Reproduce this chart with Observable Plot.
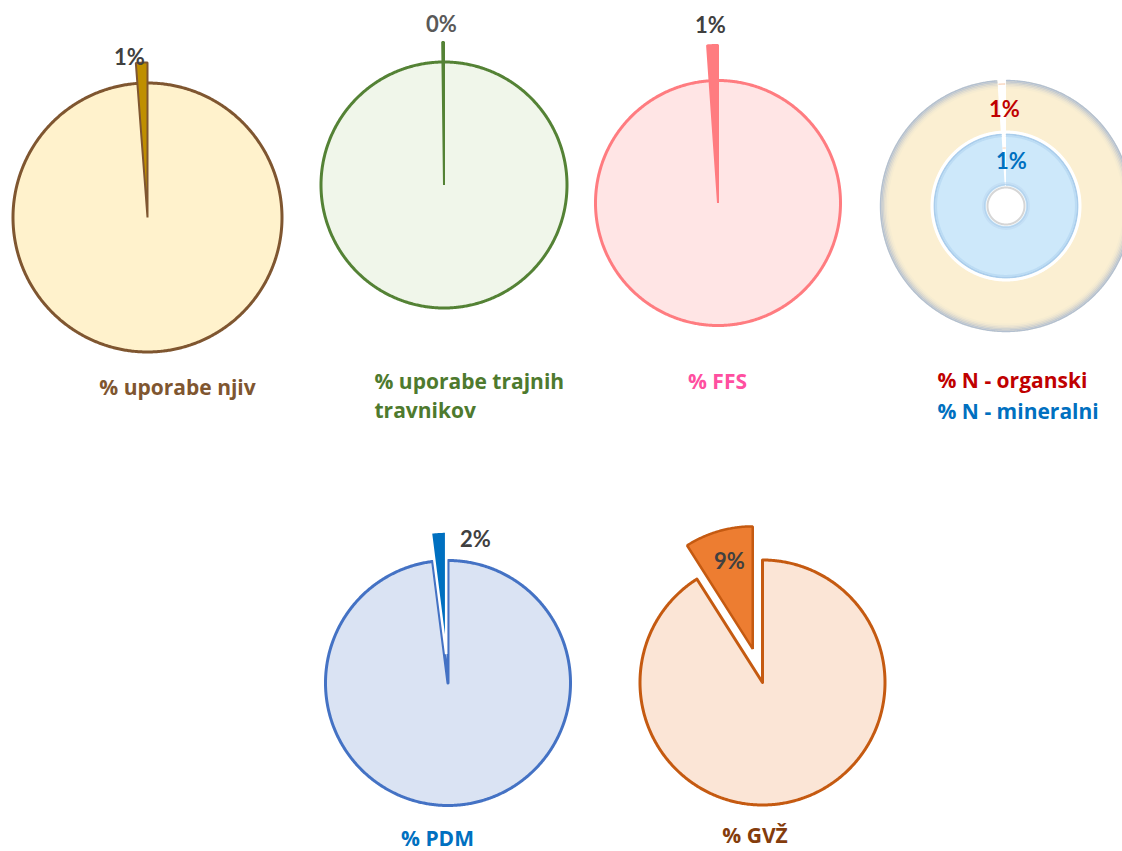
<!DOCTYPE html>
<html><head><meta charset="utf-8">
<script src="https://cdn.jsdelivr.net/npm/d3@7"></script>
<script src="https://cdn.jsdelivr.net/npm/@observablehq/plot@0.6"></script>
<style>body{margin:0;background:#fff} #chart svg{display:block}</style>
</head><body><div id="chart"></div>
<script>
// ---- data ----
const indicators = ["% uporabe njiv", "% uporabe trajnih\ntravnikov", "% FFS", "% N - organski", "% N - mineralni", "% PDM", "% GVŽ"];
const sliceShare = [1.2, 0.2, 1.1, 1.1, 1.0, 2.0, 9.0];   // highlighted slice, %
const restShare  = [98.8, 99.8, 98.9, 98.9, 99.0, 98.0, 91.0]; // remainder, %
const pctLabels = ["1%", "0%", "1%", "1%", "1%", "2%", "9%"];

// ---- layout & styles (not data) ----
const W = 1122, H = 851;
const L = [
  {kind:"pie", cx:147, cy:217, r:134.5, rSlice:155, explode:0, base:"#FFF2CC", line:"#7F5630", slice:"#BF8F00", sliceLine:"#7F5630", sw:3, gap:false,
   lx:177, lb:394, la:"middle", lc:"#7F5630", px:129, py:57, pc:"#404040"},
  {kind:"pie", cx:443.5, cy:184.5, r:123, rSlice:143, explode:0, base:"#F0F6EA", line:"#548235", slice:"#548235", sliceLine:"#548235", sw:3, gap:false,
   lx:374, lb:388, la:"start", lc:"#4E7A2E", px:441, py:24, pc:"#595959"},
  {kind:"pie", cx:717.5, cy:202.5, r:122.5, rSlice:158, explode:0, base:"#FFE5E5", line:"#FF7C80", slice:"#FF7C80", sliceLine:"#FF7C80", sw:3, gap:false,
   lx:717, lb:388, la:"middle", lc:"#FF4FA0", px:710, py:25.5, pc:"#404040"},
  {kind:"ringOuter", cx:1005.5, cy:205.5, r0:75, r1:126, base:"#FBEFD2",
   lx:937, lb:387, la:"start", lc:"#C00000", px:1004, py:109, pc:"#C00000"},
  {kind:"ringInner", cx:1005.5, cy:205.5, r0:20, r1:73, base:"#CDE8FA",
   lx:937, lb:418, la:"start", lc:"#0070C0", px:1011, py:161, pc:"#0070C0"},
  {kind:"pie", cx:447.5, cy:682.5, r:122.5, rSlice:122.5, explode:29, base:"#DAE3F3", line:"#4472C4", slice:"#0070C0", sliceLine:"#FFFFFF", sw:3, gap:true,
   lx:437, lb:845, la:"middle", lc:"#0070C0", px:475, py:539, pc:"#404040"},
  {kind:"pie", cx:762, cy:682, r:122.5, rSlice:122.5, explode:35, base:"#FBE5D6", line:"#C55A11", slice:"#ED7D31", sliceLine:"#C55A11", sw:3, gap:true,
   lx:754.5, lb:842, la:"middle", lc:"#843C0C", px:729, py:561, pc:"#404040"}
];
const catFont = 21, lineGap = 29;

// geometry helpers: angle in degrees clockwise from 12 o'clock
const pt = (cx, cy, r, a) => ({x: cx + r * Math.sin(a * Math.PI / 180), y: cy - r * Math.cos(a * Math.PI / 180)});
function arc(cx, cy, r, a0, a1) {
  const n = Math.max(2, Math.ceil(Math.abs(a1 - a0) / 0.5));
  return d3.range(n + 1).map(i => pt(cx, cy, r, a0 + (a1 - a0) * i / n));
}
function wedge(cx, cy, r, a0, a1) { return [{x: cx, y: cy}, ...arc(cx, cy, r, a0, a1)]; }
function ring(cx, cy, r0, r1, a0, a1) { return [...arc(cx, cy, r1, a0, a1), ...arc(cx, cy, r0, a1, a0)]; }

const marks = [];
const pctText = [], catText = [];
indicators.forEach((name, i) => {
  const s = L[i];
  const restDeg = restShare[i] * 3.6;            // remainder occupies [0, restDeg]
  const sliceDeg = sliceShare[i] * 3.6;          // slice occupies the last sliceDeg before 12 o'clock
  const a0 = 360 - sliceDeg, a1 = 360;
  if (s.kind === "pie") {
    marks.push(Plot.line(s.gap ? wedge(s.cx, s.cy, s.r, 0, restDeg) : arc(s.cx, s.cy, s.r, 0, 360),
      {x: "x", y: "y", curve: "linear-closed", fill: s.base, stroke: s.line, strokeWidth: s.sw}));
    const mid = (a0 + a1) / 2;
    const o = pt(0, 0, s.explode, mid);
    marks.push(Plot.line(wedge(s.cx + o.x, s.cy + o.y, s.rSlice, a0, a1),
      {x: "x", y: "y", curve: "linear-closed", fill: s.slice, stroke: s.sliceLine, strokeWidth: s.explode ? 2.5 : 2, strokeLinejoin: "miter"}));
  } else if (s.kind === "ringOuter") {
    marks.push(Plot.line(ring(s.cx, s.cy, s.r0, s.r1, 0, restDeg), {x: "x", y: "y", curve: "linear-closed", fill: s.base, stroke: "none"}));
    // soft bluish edge of the outer ring
    const edge = [["#B3C0D0", 125.4], ["#C2C9D1", 124], ["#D3D4CF", 122.6], ["#E2DDCF", 121.2], ["#EEE6D1", 119.8], ["#F6ECD1", 118.4]];
    edge.forEach(([c, rr]) => marks.push(Plot.line(arc(s.cx, s.cy, rr, 0.3, restDeg - 0.3), {x: "x", y: "y", stroke: c, strokeWidth: 1.6})));
    marks.push(Plot.line(arc(s.cx, s.cy, s.r1 - 4, restDeg + 0.6, 359.4), {x: "x", y: "y", stroke: "#F4B183", strokeWidth: 0.8}));
  } else {
    marks.push(Plot.line(ring(s.cx, s.cy, s.r0, s.r1, 0, restDeg), {x: "x", y: "y", curve: "linear-closed", fill: s.base, stroke: "none"}));
    const edge = [["#ABCDEB", s.r1 - 1.5], ["#BCDCF4", s.r1 - 3.2], ["#B5D4EE", s.r0 + 1.5], ["#C4DFF5", s.r0 + 3]];
    edge.forEach(([c, rr]) => marks.push(Plot.line(arc(s.cx, s.cy, rr, 0.5, restDeg - 0.5), {x: "x", y: "y", stroke: c, strokeWidth: 1.8})));
    marks.push(Plot.line(arc(s.cx, s.cy, s.r1 + 1, 0, 360), {x: "x", y: "y", stroke: "#FFFFFF", strokeWidth: 3}));
    marks.push(Plot.line(arc(s.cx, s.cy, s.r0 - 1.5, 0, 360), {x: "x", y: "y", stroke: "#D6D6D6", strokeWidth: 2}));
    marks.push(Plot.line(arc(s.cx, s.cy, s.r1 - 15, restDeg + 0.6, 359.4), {x: "x", y: "y", stroke: "#F4B183", strokeWidth: 0.6}));
  }
  pctText.push({x: s.px, y: s.py, t: pctLabels[i], c: s.pc});
  name.split("\n").forEach((line, k) =>
    catText.push({x: s.lx, y: s.lb + k * lineGap - 0.32 * catFont, t: line, c: s.lc, a: s.la}));
});

marks.push(Plot.text(pctText, {x: "x", y: "y", text: "t", fill: d => d.c, fontSize: 22, fontWeight: "bold", fontFamily: "Lato, 'Open Sans', sans-serif"}));
for (const a of ["start", "middle"]) {
  marks.push(Plot.text(catText.filter(d => d.a === a), {x: "x", y: "y", text: "t", fill: d => d.c, textAnchor: a, lineAnchor: "middle",
    fontSize: catFont, fontWeight: "bold", fontFamily: "'Open Sans', Lato, sans-serif"}));
}

const chart = Plot.plot({
  width: W, height: H, margin: 0,
  x: {domain: [0, W], range: [0, W], axis: null},
  y: {domain: [0, H], range: [0, H], axis: null},
  style: {background: "#fff", overflow: "visible"},
  marks
});
document.getElementById("chart").append(chart);
</script>
</body></html>
